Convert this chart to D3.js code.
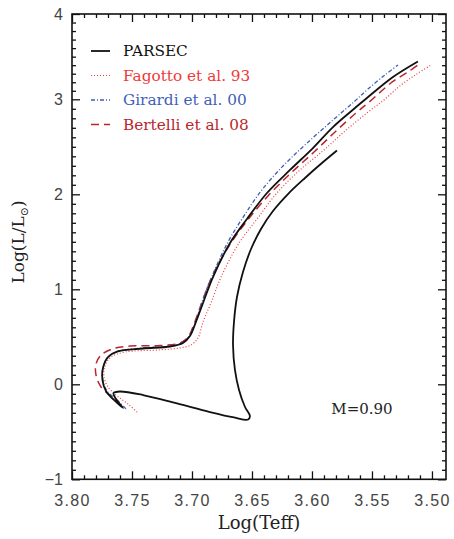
<!DOCTYPE html>
<html><head><meta charset="utf-8">
<script src="https://cdn.jsdelivr.net/npm/d3@7"></script>
<style>html,body{margin:0;padding:0;background:#fff;}</style>
</head><body>
<svg id="c" width="454" height="539"></svg>
<script>
// ---- data ----
const xMajorTicks = [3.80, 3.75, 3.70, 3.65, 3.60, 3.55, 3.50];
const xTickLabels = ["3.80", "3.75", "3.70", "3.65", "3.60", "3.55", "3.50"];
const yMajorTicks = [-1, 0, 1, 2, 3, 4];
const yTickLabels = ["\u22121", "0", "1", "2", "3", "4"];

const parsecTeff = [3.5792,3.5917,3.6058,3.6200,3.6325,3.6425,3.6508,3.6575,3.6625,3.6650,3.6658,3.6642,3.6608,3.6558,3.6517,3.6533,3.6650,3.6850,3.7125,3.7408,3.7600,3.7654,3.7633,3.7575,3.7650,3.7717,3.7746,3.7742,3.7700,3.7625,3.7408,3.7183,3.7075,3.7017,3.6967,3.6908,3.6825,3.6683,3.6542,3.6375,3.6183,3.5992,3.5825,3.5642,3.5542,3.5325,3.5117];
const parsecL    = [2.461,2.329,2.172,2.003,1.824,1.635,1.424,1.182,0.919,0.656,0.414,0.151,-0.060,-0.239,-0.334,-0.371,-0.349,-0.292,-0.202,-0.113,-0.076,-0.092,-0.155,-0.249,-0.165,-0.071,0.045,0.172,0.287,0.345,0.377,0.398,0.435,0.508,0.656,0.856,1.129,1.487,1.740,2.014,2.256,2.487,2.708,2.908,3.015,3.261,3.443];

const fagottoTeff = [3.7458,3.7533,3.7625,3.7700,3.7733,3.7725,3.7675,3.7558,3.7267,3.7100,3.7008,3.6950,3.6908,3.6842,3.6758,3.6608,3.6458,3.6292,3.6100,3.5900,3.5725,3.5542,3.5400,3.5267,3.5133,3.5000];
const fagottoL    = [-0.292,-0.207,-0.122,-0.028,0.078,0.194,0.287,0.340,0.362,0.383,0.414,0.487,0.656,0.856,1.129,1.487,1.740,2.014,2.256,2.466,2.666,2.856,2.993,3.156,3.291,3.408];

const girardiTeff = [3.7550,3.7625,3.7708,3.7742,3.7742,3.7700,3.7625,3.7408,3.7183,3.7075,3.7017,3.6967,3.6917,3.6833,3.6700,3.6567,3.6417,3.6233,3.6050,3.5825,3.5642,3.5542,3.5392,3.5283];
const girardiL    = [-0.259,-0.164,-0.071,0.045,0.172,0.287,0.345,0.382,0.403,0.440,0.519,0.666,0.866,1.140,1.498,1.772,2.046,2.309,2.529,2.782,2.982,3.109,3.285,3.402];

const bertelliTeff = [3.7592,3.7667,3.7758,3.7800,3.7800,3.7758,3.7667,3.7517,3.7267,3.7100,3.7033,3.6983,3.6925,3.6842,3.6692,3.6542,3.6367,3.6175,3.5983,3.5808,3.5633,3.5533,3.5325,3.5200,3.5117];
const bertelliL    = [-0.223,-0.134,-0.028,0.099,0.214,0.308,0.371,0.403,0.408,0.435,0.498,0.635,0.835,1.108,1.456,1.719,1.982,2.224,2.445,2.656,2.856,2.961,3.209,3.320,3.402];

const seriesNames = ["PARSEC", "Fagotto et al. 93", "Girardi et al. 00", "Bertelli et al. 08"];
const seriesColors = ["#111111", "#ee3a3a", "#3f5fb8", "#b8262c"];
const seriesDash = [null, "1,2", "4,2,1,2", "8,5"];
const seriesWidth = [1.8, 1.2, 1.3, 1.5];
const massLabel = "M=0.90";

// ---- chart ----
const svg = d3.select("#c");
const x = d3.scaleLinear().domain([3.80, 3.4883]).range([72, 446]);
const y = d3.scaleLinear().domain([-1, 3, 4]).range([479.3, 99.3, 14]);
const X0 = x.range()[0], X1 = x.range()[1], Y0 = y(-1), Y1 = y(4);

const xMinor = d3.range(1, 31).map(i => +(3.80 - i * 0.01).toFixed(2)).filter(v => Math.round(v*100) % 5 !== 0 && v > 3.495);
const yMinor = d3.range(-9, 40).map(i => +(i / 10).toFixed(1)).filter(v => Math.round(v*10) % 10 !== 0);

function styleAxis(g) { g.select(".domain").remove(); g.selectAll("line").attr("stroke", "#111").attr("stroke-width", 1.3); }

// bottom
svg.append("g").attr("transform", `translate(0,${Y0})`)
  .call(d3.axisBottom(x).tickValues(xMajorTicks).tickSize(-8).tickPadding(15)
        .tickFormat((d, i) => xTickLabels[i]))
  .call(styleAxis)
  .call(g => g.selectAll("text").attr("font-family", "Liberation Sans, Arial, sans-serif")
        .attr("font-size", 16).attr("fill", "#444").attr("letter-spacing", "1.3px"));
svg.append("g").attr("transform", `translate(0,${Y0})`)
  .call(d3.axisBottom(x).tickValues(xMinor).tickSize(-4).tickFormat("")).call(styleAxis);
// top
svg.append("g").attr("transform", `translate(0,${Y1})`)
  .call(d3.axisTop(x).tickValues(xMajorTicks).tickSize(-8).tickFormat("")).call(styleAxis);
svg.append("g").attr("transform", `translate(0,${Y1})`)
  .call(d3.axisTop(x).tickValues(xMinor).tickSize(-4).tickFormat("")).call(styleAxis);
// left
svg.append("g").attr("transform", `translate(${X0},0)`)
  .call(d3.axisLeft(y).tickValues(yMajorTicks).tickSize(-8).tickPadding(9)
        .tickFormat((d, i) => yTickLabels[i]))
  .call(styleAxis)
  .call(g => g.selectAll("text").attr("font-family", "Liberation Sans, Arial, sans-serif")
        .attr("font-size", 16).attr("fill", "#444"));
svg.append("g").attr("transform", `translate(${X0},0)`)
  .call(d3.axisLeft(y).tickValues(yMinor).tickSize(-4).tickFormat("")).call(styleAxis);
// right
svg.append("g").attr("transform", `translate(${X1},0)`)
  .call(d3.axisRight(y).tickValues(yMajorTicks).tickSize(-8).tickFormat("")).call(styleAxis);
svg.append("g").attr("transform", `translate(${X1},0)`)
  .call(d3.axisRight(y).tickValues(yMinor).tickSize(-4).tickFormat("")).call(styleAxis);

// frame
svg.append("rect").attr("x", X0).attr("y", Y1).attr("width", X1 - X0).attr("height", Y0 - Y1)
  .attr("fill", "none").attr("stroke", "#111").attr("stroke-width", 1.6);

// curves
const line = d3.line().x(d => x(d[0])).y(d => y(d[1])).curve(d3.curveCatmullRom.alpha(0.5));
const series = [
  d3.zip(parsecTeff, parsecL),
  d3.zip(fagottoTeff, fagottoL),
  d3.zip(girardiTeff, girardiL),
  d3.zip(bertelliTeff, bertelliL)
];
const drawOrder = [1, 3, 2, 0];
drawOrder.forEach(i => {
  svg.append("path").attr("d", line(series[i])).attr("fill", "none")
    .attr("stroke", seriesColors[i]).attr("stroke-width", seriesWidth[i])
    .attr("stroke-dasharray", seriesDash[i]);
});

// legend
const legY = [51, 75.5, 100, 124.5];
seriesNames.forEach((name, i) => {
  svg.append("line").attr("x1", 91).attr("x2", 110).attr("y1", legY[i]).attr("y2", legY[i])
    .attr("stroke", seriesColors[i]).attr("stroke-width", seriesWidth[i])
    .attr("stroke-dasharray", seriesDash[i]);
  svg.append("text").attr("x", 123).attr("y", legY[i] + 5).text(name)
    .attr("font-family", "DejaVu Serif, serif").attr("font-size", 15.3)
    .attr("fill", i === 0 ? "#111" : seriesColors[i]);
});

// axis titles
svg.append("text").attr("x", (X0 + X1) / 2).attr("y", 529).attr("text-anchor", "middle")
  .attr("font-family", "DejaVu Serif, serif").attr("font-size", 18).attr("fill", "#222").text("Log(Teff)");
const yt = svg.append("text").attr("transform", "translate(24,242) rotate(-90)").attr("text-anchor", "middle")
  .attr("font-family", "DejaVu Serif, serif").attr("font-size", 17).attr("fill", "#222");
yt.append("tspan").text("Log(L/L");
yt.append("tspan").attr("font-size", 11).attr("dy", 4).text("\u2299");
yt.append("tspan").attr("dy", -4).text(")");

svg.append("text").attr("x", 362).attr("y", 414).attr("text-anchor", "middle")
  .attr("font-family", "DejaVu Serif, serif").attr("font-size", 15).attr("fill", "#222").text(massLabel);
</script>
</body></html>
